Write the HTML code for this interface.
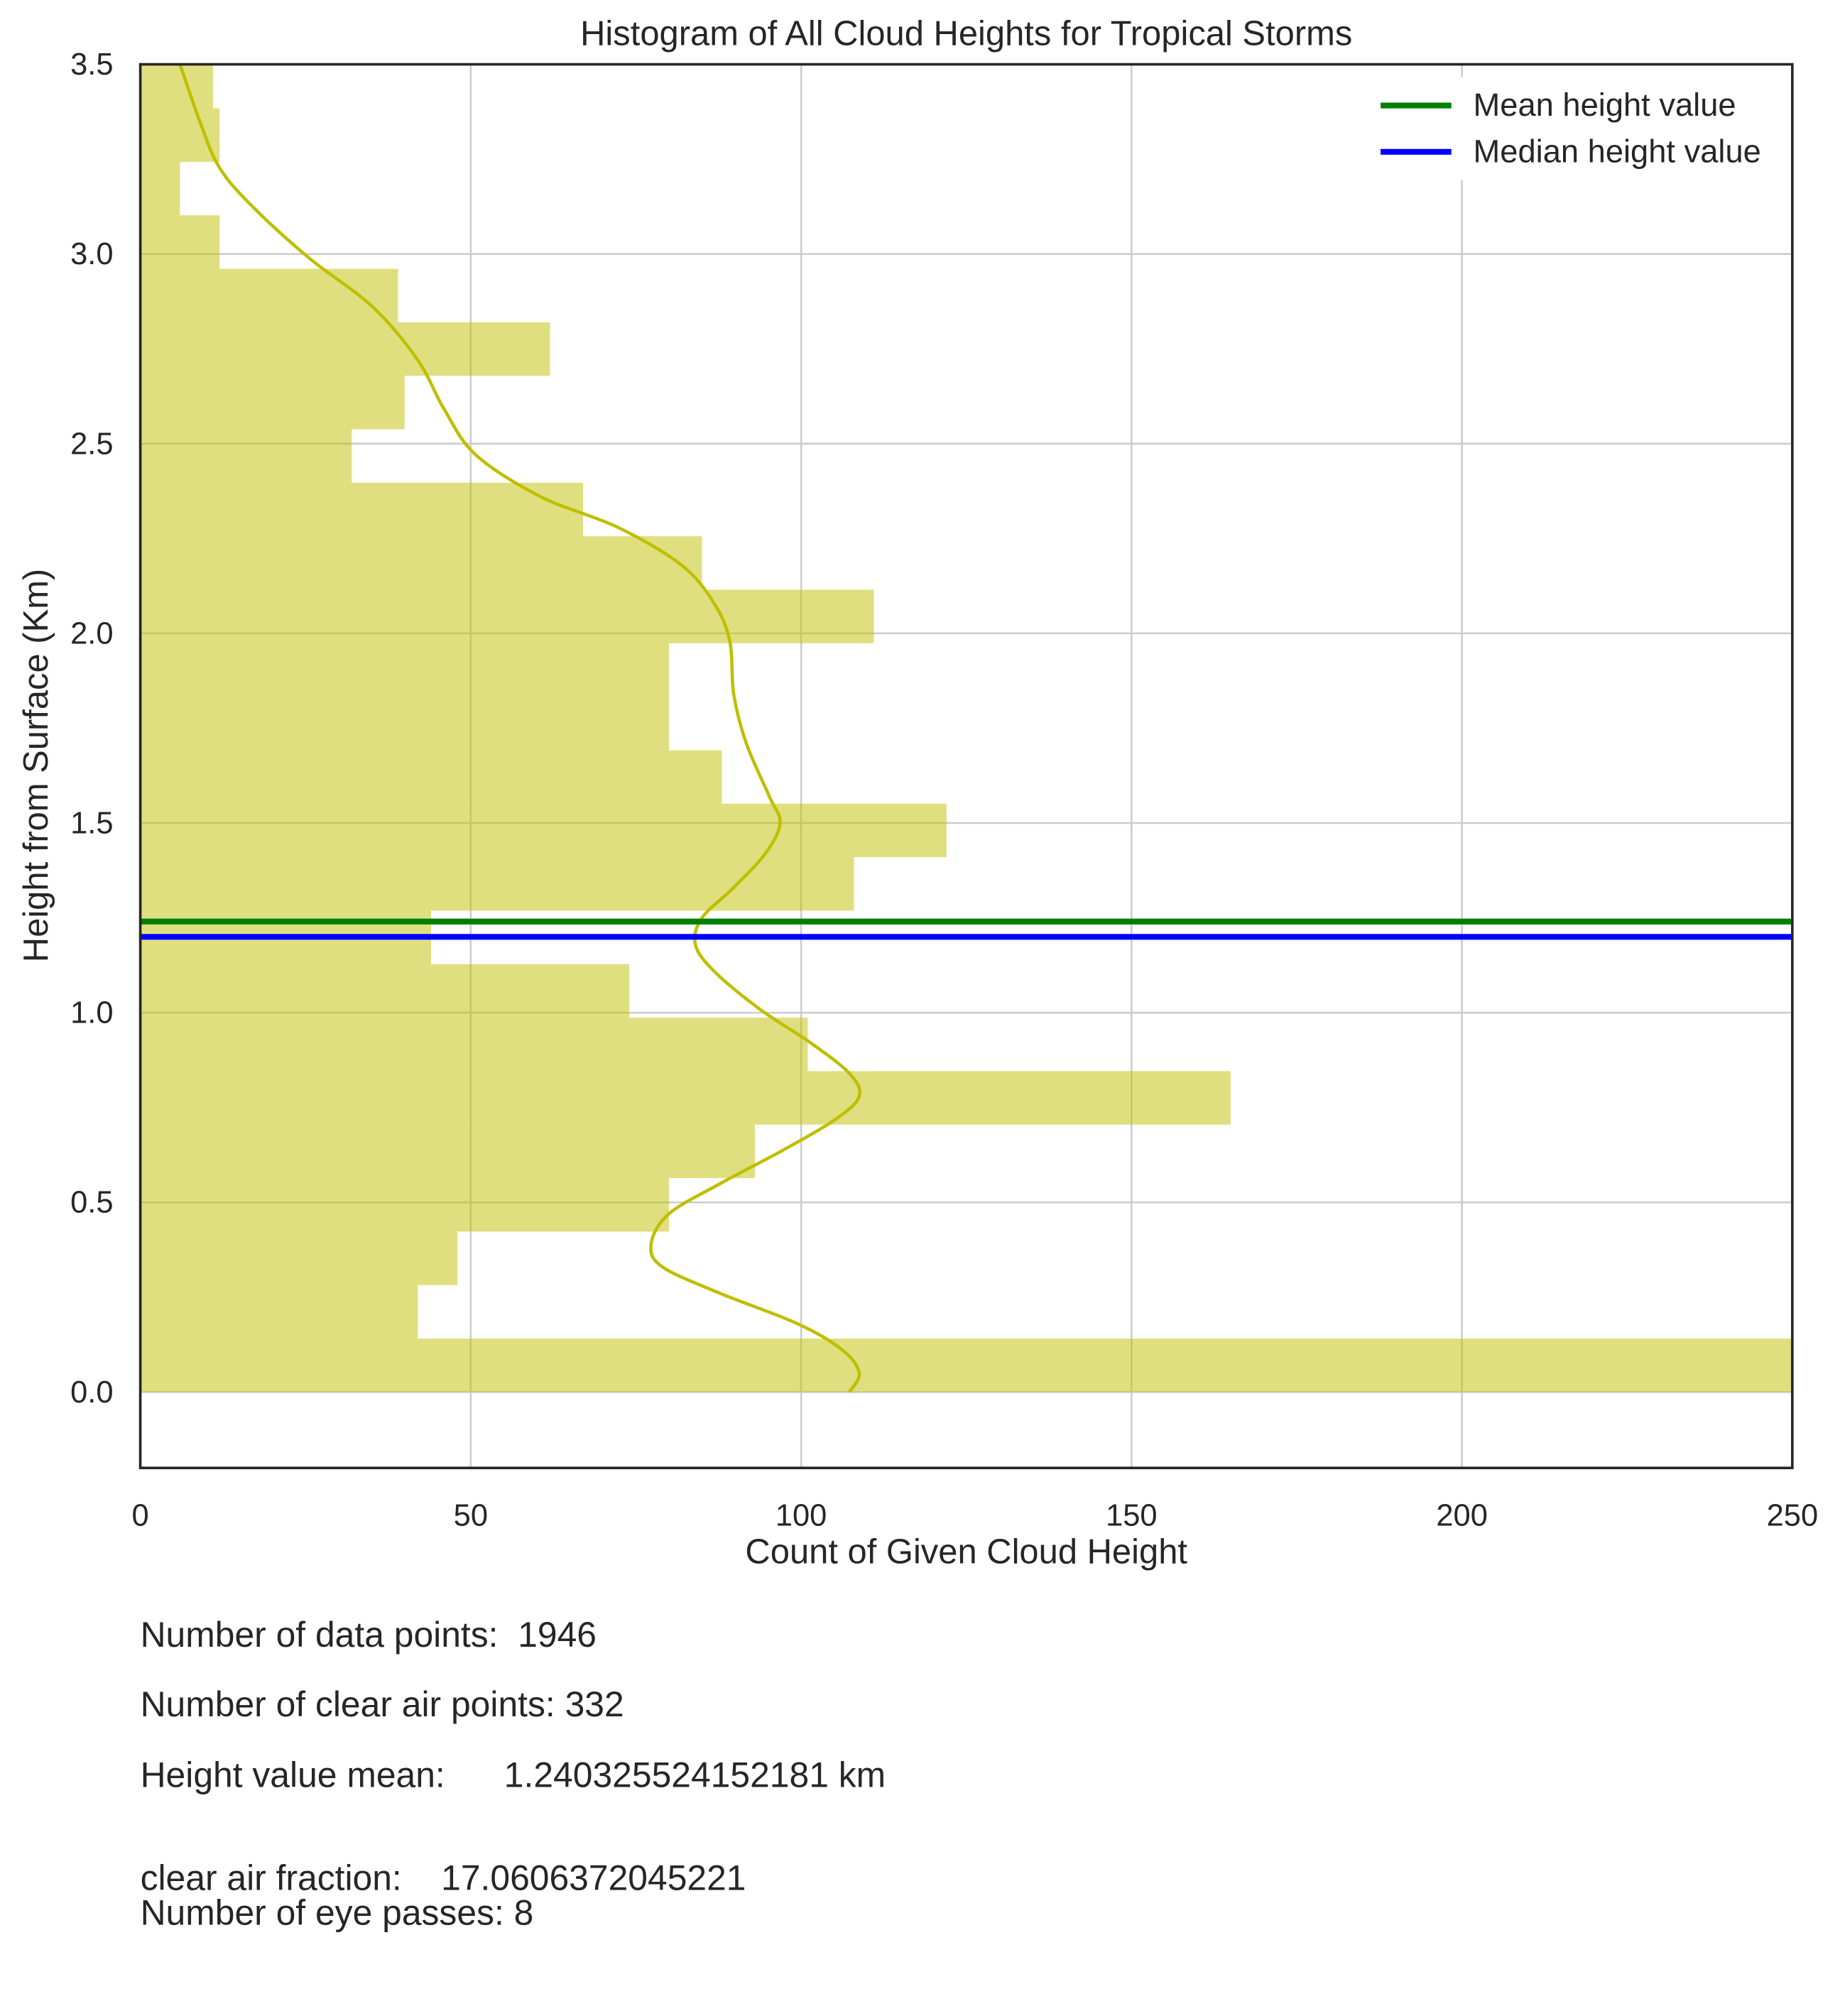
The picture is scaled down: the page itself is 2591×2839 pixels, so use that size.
<!DOCTYPE html>
<html><head><meta charset="utf-8"><style>
html,body{margin:0;padding:0;background:#fff}
svg{display:block}
text{font-family:"Liberation Sans",Arial,sans-serif;fill:#262626}
</style></head><body>
<svg id="chart" width="2591" height="2839" viewBox="0 0 1430 1567" xmlns="http://www.w3.org/2000/svg">
<text x="751" y="35" font-size="27" text-anchor="middle">Histogram of All Cloud Heights for Tropical Storms</text>
<g id="grid"></g>
<g id="bars"></g>
<g id="lines"></g>
<g id="xticks"></g>
<g id="yticks"></g>
<rect x="109" y="50" width="1284" height="1091" fill="none" stroke="#262626" stroke-width="2"/>
<g>
<rect x="1060" y="60" width="325" height="80" fill="#fff"/>
<line x1="1073" y1="82" x2="1128" y2="82" stroke="#008000" stroke-width="4.5"/>
<text x="1145" y="90" font-size="25">Mean height value</text>
<line x1="1073" y1="118" x2="1128" y2="118" stroke="#0000ff" stroke-width="4.5"/>
<text x="1145" y="126" font-size="25">Median height value</text>
</g>
<text x="751" y="1215" font-size="27" text-anchor="middle">Count of Given Cloud Height</text>
<text x="0" y="0" font-size="27" text-anchor="middle" transform="translate(37,595) rotate(-90)">Height from Surface (Km)</text>
<g font-size="27.5">
<text x="109" y="1280" xml:space="preserve">Number of data points:  1946</text>
<text x="109" y="1334">Number of clear air points: 332</text>
<text x="109" y="1389" xml:space="preserve">Height value mean:      1.240325524152181 km</text>
<text x="109" y="1469" xml:space="preserve">clear air fraction:    17.0606372045221</text>
<text x="109" y="1496">Number of eye passes: 8</text>
</g>
</svg>
<script>
const binCounts = [300,42,48,80,93,165,101,74,44,108,122,88,80,80,111,85,67,32,40,62,39,12,6,12,11];
const binWidth = 0.141;
const kdeHeights = [0,0.05,0.11,0.18,0.26,0.33,0.39,0.47,0.55,0.64,0.72,0.78,0.84,0.92,1.01,1.11,1.18,1.25,1.33,1.42,1.50,1.57,1.71,1.84,1.98,2.08,2.18,2.28,2.36,2.47,2.59,2.72,2.86,2.99,3.13,3.23,3.35,3.5];
const kdeCounts = [107.3,108.8,106.3,99.5,87.8,79,77.3,80,87.8,97.5,105.3,108.8,107.3,101.5,93.7,86.8,84,85,89.8,94.6,96.8,95.2,91.7,89.8,89.2,86.8,81.9,72.2,60.6,50.8,46,42,35.2,25.5,16.7,11.9,9,6];
const meanHeight = 1.240325524152181;
const medianHeight = 1.2;
const xTicks = [0,50,100,150,200,250];
const yTicks = [0.0,0.5,1.0,1.5,2.0,2.5,3.0,3.5];

const NS = "http://www.w3.org/2000/svg";
const L=109,R=1393,T=50,B=1141,xMax=250,yMin=-0.2,yMax=3.5;
function xs(v){return L+(Math.min(v,xMax))/xMax*(R-L);}
function ys(v){return B-(v-yMin)/(yMax-yMin)*(B-T);}
function mk(tag,attrs,parent){const e=document.createElementNS(NS,tag);for(const k in attrs)e.setAttribute(k,attrs[k]);parent.appendChild(e);return e;}
const grid=document.getElementById('grid');
xTicks.forEach(t=>{
  const l=mk('line',{x1:xs(t),x2:xs(t),y1:T,y2:B,stroke:'#cccccc','stroke-width':1.4},grid);
  
  
  const tx=mk('text',{x:xs(t),y:1186,'font-size':24,'text-anchor':'middle'},document.getElementById('xticks'));
  tx.textContent=t;
  
  
});
yTicks.forEach(t=>{
  const l=mk('line',{x1:L,x2:R,y1:ys(t),y2:ys(t),stroke:'#cccccc','stroke-width':1.4},grid);
  
  
  const tx=mk('text',{x:88,y:ys(t)+8,'font-size':24,'text-anchor':'end'},document.getElementById('yticks'));
  tx.textContent=t.toFixed(1);
  
  
});
const bars=document.getElementById('bars');
binCounts.forEach((c,i)=>{
  const y0=Math.min(i*binWidth,yMax), y1=Math.min((i+1)*binWidth,yMax);
  const r=mk('rect',{x:L,y:ys(y1),width:xs(c)-L,height:ys(y0)-ys(y1),fill:'#bfbf00','fill-opacity':0.5},bars);
  
  
});
const lines=document.getElementById('lines');
const pts=kdeHeights.map((h,i)=>[xs(kdeCounts[i]),ys(h)]);
let d='M'+pts[0][0].toFixed(1)+','+pts[0][1].toFixed(1);
for(let i=0;i<pts.length-1;i++){
  const p0=pts[Math.max(i-1,0)],p1=pts[i],p2=pts[i+1],p3=pts[Math.min(i+2,pts.length-1)];
  const c1=[p1[0]+(p2[0]-p0[0])/6,p1[1]+(p2[1]-p0[1])/6];
  const c2=[p2[0]-(p3[0]-p1[0])/6,p2[1]-(p3[1]-p1[1])/6];
  d+='C'+c1[0].toFixed(1)+','+c1[1].toFixed(1)+' '+c2[0].toFixed(1)+','+c2[1].toFixed(1)+' '+p2[0].toFixed(1)+','+p2[1].toFixed(1);
}
const kde=mk('path',{d:d,fill:'none',stroke:'#bfbf00','stroke-width':2.5,'stroke-linejoin':'round'},lines);


const ml=mk('line',{x1:L,x2:R,y1:ys(meanHeight),y2:ys(meanHeight),stroke:'#008000','stroke-width':4.5},lines);


const md=mk('line',{x1:L,x2:R,y1:ys(medianHeight),y2:ys(medianHeight),stroke:'#0000ff','stroke-width':4.5},lines);


</script>
</body></html>
